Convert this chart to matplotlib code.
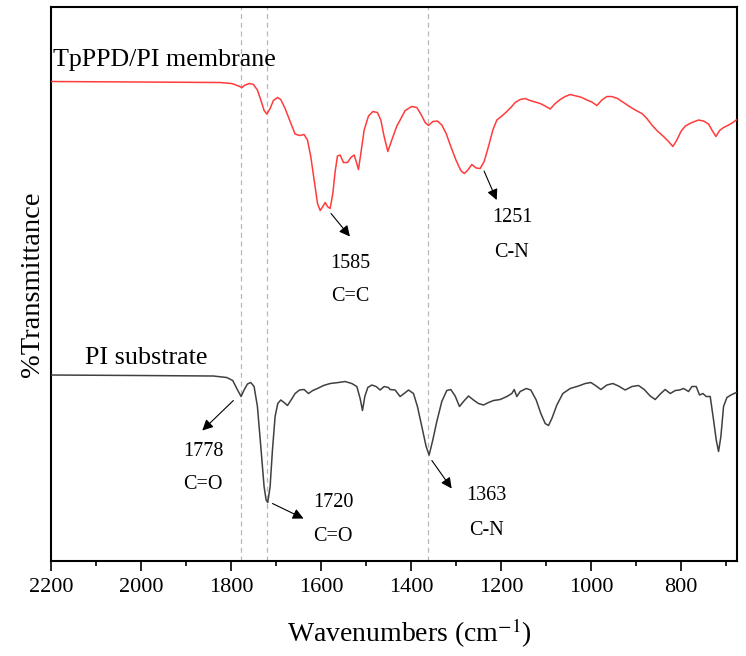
import numpy as np
import matplotlib
matplotlib.use("Agg")
import matplotlib.pyplot as plt

plt.rcParams['font.family'] = ['Liberation Serif', 'DejaVu Serif']
plt.rcParams['mathtext.fontset'] = 'stix'

# TpPPD/PI membrane (red)
wn_membrane = [2198, 2002, 1824.4, 1798.5, 1786, 1776, 1769, 1759, 1750.4, 1741.5, 1734,
               1726.7, 1720.7, 1713.3, 1706, 1697, 1689.6, 1680, 1668.8, 1657.8, 1648,
               1637.8, 1630.3, 1623, 1615.5, 1608, 1602, 1596.3, 1591, 1586, 1580, 1574,
               1568.8, 1563.7, 1557.7, 1550.3, 1541.4, 1534, 1526.6, 1520.7, 1517,
               1511.8, 1504.4, 1494.8, 1485, 1474.8, 1467.4, 1460, 1451.8, 1443, 1431.8,
               1424.5, 1413.3, 1398.5, 1387.4, 1378.5, 1368.9, 1361.5, 1351.9, 1341.5,
               1331.9, 1322.2, 1311.9, 1300, 1289.6, 1282.2, 1274.8, 1265.2, 1255.6,
               1246.7, 1237.8, 1228.2, 1218.5, 1209.6, 1198.5, 1187.4, 1178.5, 1168.9,
               1157.8, 1146.7, 1135.6, 1124.5, 1113.3, 1102.2, 1091.1, 1080, 1068.9,
               1057.8, 1046.7, 1037.8, 1028.2, 1020.7, 1009.6, 998.5, 987.4, 976.3,
               965.2, 954.1, 941.5, 928.2, 914.8, 902.3, 887.4, 876.3, 865.2, 854.1,
               839.3, 828.2, 818.5, 809.6, 800.7, 791.1, 776.3, 761.5, 750.4, 739.3,
               731.9, 723, 714.8, 706, 694.8, 685.2, 677.8]
t_membrane = [95.9, 95.8, 95.7, 95.5, 95.1, 94.7, 95.2, 95.5, 95.3, 94.2, 92.2,
              90.1, 89.4, 90.5, 92.1, 92.7, 92.3, 90.5, 87.9, 85.4, 85.1,
              85.3, 84.2, 80.9, 76.2, 71.5, 70.1, 70.9, 71.7, 70.9, 70.5, 73.5,
              77.9, 81.0, 81.2, 79.7, 79.7, 80.7, 81.2, 79.5, 78.3,
              81.5, 86.2, 89.0, 89.9, 89.7, 88.2, 84.9, 81.9, 84.2, 87.0,
              88.2, 90.1, 90.9, 90.7, 89.4, 87.7, 87.1, 87.9, 88.0,
              87.2, 85.5, 82.9, 80.1, 78.1, 77.5, 78.1, 79.3, 78.6,
              78.5, 79.9, 82.9, 86.2, 88.2, 89.0, 89.9, 90.7, 91.7,
              92.3, 92.5, 92.1, 91.8, 91.5, 91.0, 90.4, 91.5, 92.3,
              92.9, 93.3, 93.1, 92.9, 92.7, 92.2, 91.8, 91.1, 92.2,
              92.9, 92.9, 92.5, 91.7, 90.9, 90.2, 89.5, 88.5, 87.2, 86.1,
              84.9, 83.9, 82.9, 84.2, 85.9, 87.0, 87.7, 88.2, 88.0, 87.4,
              86.2, 84.9, 86.1, 86.7, 87.2, 87.7, 88.2]

# PI substrate (dark grey)
wn_substrate = [2198.5, 2002, 1839.2, 1809.6, 1796.3, 1787.4, 1777.8, 1771.1, 1763.7,
                1756.3, 1748.9, 1741.5, 1734, 1726.7, 1722.2, 1718.5, 1713.3, 1708.1,
                1702.2, 1696.3, 1689.6, 1682.2, 1674.8, 1667.4, 1657.8, 1648.1, 1637.8,
                1628.1, 1618.5, 1608.1, 1594.8, 1580, 1561.5, 1546.6, 1531.8, 1520.7,
                1513.3, 1508.1, 1502.9, 1496.3, 1487.4, 1477.8, 1468.9, 1460, 1450.4,
                1446.7, 1435.6, 1424.5, 1415.6, 1405.9, 1394.8, 1386, 1376.3, 1366.7,
                1360, 1351.9, 1343, 1331.9, 1320.8, 1311.9, 1302.2, 1292.6, 1283.7,
                1272.6, 1261.5, 1250.4, 1239.3, 1228.2, 1217, 1202.2, 1187.4, 1176.3,
                1171.1, 1165.2, 1157.8, 1144.4, 1134.1, 1122.2, 1111.9, 1102.2, 1094.8,
                1087.4, 1076.3, 1063, 1046.7, 1028.2, 1013.3, 1000.7, 988.9, 978.5,
                965.2, 951.9, 939.3, 924.5, 909.6, 894.8, 882.2, 868.9, 857.8, 846.7,
                835.6, 824.4, 813.3, 803.7, 794.8, 783.7, 776.3, 766.7, 759.3, 751.9,
                744.5, 735.6, 728.2, 722.2, 717.1, 711.9, 706, 698.5, 689.6, 677.8]
t_substrate = [37.2, 37.1, 37.0, 36.7, 36.1, 34.5, 32.9, 34.2, 35.4,
               35.7, 34.9, 30.9, 22.9, 14.9, 12.2, 11.7, 14.9, 22.2,
               28.9, 31.5, 32.2, 31.7, 31.1, 32.1, 33.5, 34.2, 34.3,
               33.5, 34.1, 34.5, 35.1, 35.5, 35.7, 35.9, 35.5, 34.9,
               32.5, 30.1, 32.9, 34.7, 35.2, 34.9, 34.2, 34.9, 34.7,
               34.3, 34.2, 32.9, 33.5, 34.2, 33.5, 30.9, 26.9, 22.9,
               21.2, 24.2, 27.9, 31.9, 34.1, 34.3, 33.0, 30.9, 31.9,
               33.0, 32.2, 31.5, 31.2, 31.7, 32.1, 32.3, 32.9, 33.5,
               34.3, 32.9, 33.9, 34.5, 34.2, 32.2, 29.5, 27.5, 27.1,
               28.5, 31.2, 33.5, 34.5, 35.0, 35.5, 35.7, 35.0, 34.3,
               35.2, 35.5, 35.0, 34.2, 34.9, 35.1, 34.3, 33.0, 32.3, 33.4,
               34.3, 33.5, 34.1, 34.2, 34.5, 33.9, 34.9, 34.9, 33.2, 33.5,
               32.9, 32.9, 28.2, 24.2, 21.9, 24.9, 30.9, 32.7, 33.2, 33.7]

ref_lines = [1778, 1720, 1363]

# peak assignments: wavenumber label, group, label positions, arrow tail/head
peak_nums = ["1585", "1251", "1778", "1720", "1363"]
peak_groups = ["C=C", "C-N", "C=O", "C=O", "C-N"]
num_xy = [(1536, 59.6), (1176, 68.8), (1862, 22.0), (1573, 11.8), (1233, 13.2)]
group_xy = [(1536, 53.0), (1176, 61.8), (1862, 15.4), (1573, 5.0), (1233, 6.2)]
arrow_tail = [(1578, 69.5), (1238, 78.0), (1795, 32.1), (1708, 11.5), (1354, 20.1)]
arrow_head = [(1536, 64.9), (1210, 72.2), (1864, 26.1), (1639, 8.5), (1310, 14.5)]

fig = plt.figure(figsize=(7.46, 6.56), dpi=100)
ax = fig.add_axes([0.0684, 0.1448, 0.9196, 0.8445])

for w in ref_lines:
    ax.axvline(w, color='#b8b8b8', linestyle=(0, (4, 3)), linewidth=0.9, zorder=1)

ax.plot(wn_membrane, t_membrane, color='#ff3b3b', linewidth=1.1, zorder=3)
ax.plot(wn_substrate, t_substrate, color='#404040', linewidth=1.1, zorder=3)

ax.text(2196, 100.2, "TpPPD/PI membrane", fontsize=18.7, ha='left', va='center')
ax.text(2124, 40.6, "PI substrate", fontsize=18.7, ha='left', va='center')

for n, g, nxy, gxy, tail, head in zip(peak_nums, peak_groups, num_xy, group_xy,
                                      arrow_tail, arrow_head):
    ax.annotate("", xy=head, xytext=tail,
                arrowprops=dict(arrowstyle='-|>', color='black', lw=0.8,
                                mutation_scale=16, shrinkA=0, shrinkB=0))
    ax.text(nxy[0], nxy[1], n, fontsize=14.5, ha='center', va='center')
    ax.text(gxy[0], gxy[1], g, fontsize=14.5, ha='center', va='center')

ax.set_xlim(2200, 676)
ax.set_ylim(0, 110.8)
ax.set_xticks(np.arange(2200, 699, -200))
ax.set_xticks(np.arange(2100, 699, -100), minor=True)
ax.set_yticks([])
ax.tick_params(axis='x', which='major', direction='out', length=7.5, width=1.2,
               labelsize=16, pad=5)
ax.tick_params(axis='x', which='minor', direction='out', length=3.8, width=1.2)
for s in ax.spines.values():
    s.set_linewidth(1.5)

ax.set_xlabel("Wavenumbers (cm$^{-1}$)", fontsize=20, labelpad=14)
ax.xaxis.label.set_x(0.523)
ax.set_ylabel("%Transmittance", fontsize=20.5, labelpad=4)

fig.savefig("out.png", dpi=100)
